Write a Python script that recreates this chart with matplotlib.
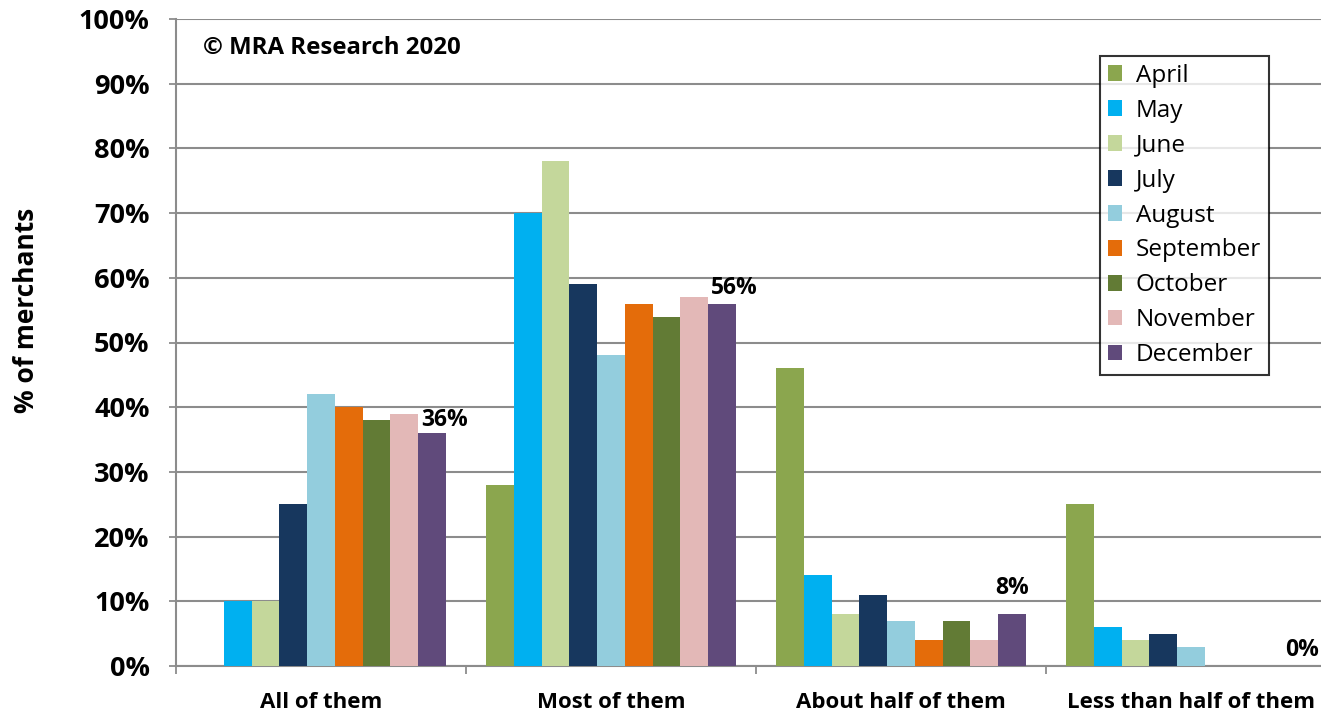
import matplotlib.pyplot as plt
import numpy as np

plt.rcParams['font.family'] = ['Open Sans', 'DejaVu Sans']

categories = ['All of them', 'Most of them', 'About half of them', 'Less than half of them']
months = ['April', 'May', 'June', 'July', 'August', 'September', 'October', 'November', 'December']
colors = ['#8BA64E', '#00B0F0', '#C4D79B', '#17375E', '#93CDDD',
          '#E46C0A', '#627B35', '#E3B8B7', '#604A7B']

april = [0, 28, 46, 25]
may = [10, 70, 14, 6]
june = [10, 78, 8, 4]
july = [25, 59, 11, 5]
august = [42, 48, 7, 3]
september = [40, 56, 4, 0]
october = [38, 54, 7, 0]
november = [39, 57, 4, 0]
december = [36, 56, 8, 0]

series = [april, may, june, july, august, september, october, november, december]

W, H = 1321, 714
fig = plt.figure(figsize=(W / 100, H / 100), dpi=100)
ax_w = (1336 - 176) / W
ax = fig.add_axes([176 / W, 1 - 666 / H, ax_w, (666 - 19) / H])

bar_w = 0.0955
gap = 1 - bar_w * len(months)
x0 = np.arange(len(categories))
for i, (name, vals, c) in enumerate(zip(months, series, colors)):
    xs = x0 + gap / 2 + bar_w * (i + 0.5)
    ax.bar(xs, vals, width=bar_w, color=c, label=name, align='center', zorder=3)

# value labels on the December series (offsets in points, keep them off the neighbours)
dec_x = x0 + gap / 2 + bar_w * 8.5
nudge = [(9, 1), (9, 3), (0, 10), (0, 3)]
for xv, v, (dx, dy) in zip(dec_x, december, nudge):
    ax.annotate(f'{v}%', (xv, v), xytext=(dx, dy), textcoords='offset points',
                ha='center', va='bottom', fontsize=16.5, fontweight='bold', zorder=4)

ax.set_xlim(0, len(categories))
ax.set_ylim(0, 100)
ax.set_yticks(np.arange(0, 101, 10))
ax.set_yticklabels([f'{v}%' for v in range(0, 101, 10)], fontsize=19.5, fontweight='bold')
ax.set_xticks(np.arange(0, len(categories) + 1))
ax.set_xticklabels([])
ax.set_xticks(x0 + 0.5, minor=True)
ax.set_xticklabels(categories, minor=True, fontsize=16, fontweight='bold')
ax.tick_params(axis='x', which='minor', length=0, pad=19)
ax.tick_params(axis='x', which='major', length=6, color='#8c8c8c', width=1.3)
ax.tick_params(axis='y', length=5, color='#8c8c8c', width=1.3, pad=14)

ax.yaxis.grid(True, color='#8c8c8c', linewidth=1.5, zorder=0)
ax.set_axisbelow(True)
for s in ['top', 'right']:
    ax.spines[s].set_visible(False)
for s in ['left', 'bottom']:
    ax.spines[s].set_color('#8c8c8c')
    ax.spines[s].set_linewidth(1.5)

ax.set_ylabel('% of merchants', fontsize=19, fontweight='bold')
ax.yaxis.set_label_coords((40 - 176) / (1336 - 176), (666 - 310) / (666 - 19))

ax.text(0.023, 0.955, '© MRA Research 2020', transform=ax.transAxes,
        fontsize=17.3, fontweight='bold', va='center', ha='left')

leg = ax.legend(loc='upper left', bbox_to_anchor=((1100 - 176) / (1336 - 176), 1 - (56 - 19) / (666 - 19)),
                fontsize=17.5, frameon=True, fancybox=False, edgecolor='black',
                handlelength=0.6, handleheight=0.6, handletextpad=0.55,
                labelspacing=0.45, borderpad=0.32, borderaxespad=0)
leg.get_frame().set_linewidth(1.5)

fig.savefig('out.png', dpi=100)
